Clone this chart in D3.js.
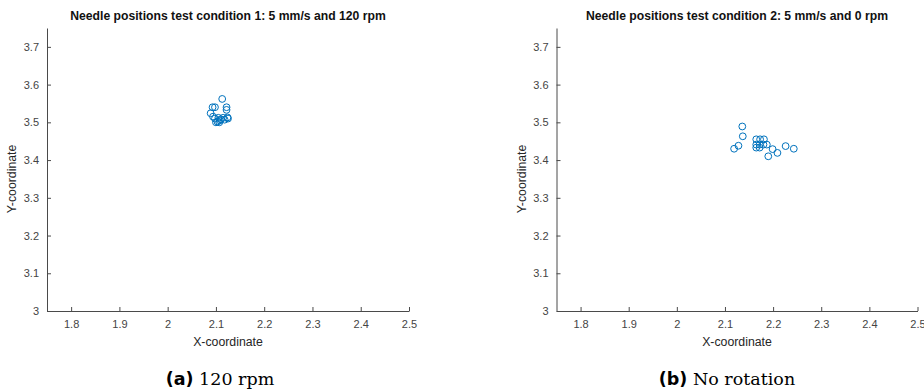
<!DOCTYPE html>
<html><head><meta charset="utf-8">
<script src="https://cdn.jsdelivr.net/npm/d3@7"></script>
<style>
body{margin:0;background:#fff;}
svg{display:block;}
</style></head>
<body>
<svg id="chart" width="924" height="392"></svg>
<script>
// ---- data ----
const xTicks = [1.8, 1.9, 2, 2.1, 2.2, 2.3, 2.4, 2.5];
const yTicks = [3, 3.1, 3.2, 3.3, 3.4, 3.5, 3.6, 3.7];
const titles = ["Needle positions test condition 1: 5 mm/s and 120 rpm",
                "Needle positions test condition 2: 5 mm/s and 0 rpm"];
const captionTags = ["(a)", "(b)"];
const captionTexts = ["120 rpm", "No rotation"];
const xLabel = "X-coordinate";
const yLabel = "Y-coordinate";
// condition 1 (120 rpm)
const x1 = [2.113, 2.093, 2.098, 2.122, 2.122, 2.089, 2.094, 2.098, 2.105, 2.110, 2.115, 2.124, 2.103, 2.108, 2.118, 2.125, 2.100, 2.107];
const y1 = [3.562, 3.540, 3.540, 3.540, 3.533, 3.524, 3.515, 3.510, 3.512, 3.508, 3.512, 3.513, 3.502, 3.505, 3.507, 3.510, 3.500, 3.500];
// condition 2 (0 rpm)
const x2 = [2.136, 2.137, 2.128, 2.119, 2.165, 2.173, 2.181, 2.165, 2.172, 2.180, 2.187, 2.165, 2.172, 2.199, 2.209, 2.190, 2.226, 2.243];
const y2 = [3.489, 3.463, 3.438, 3.430, 3.455, 3.455, 3.455, 3.441, 3.441, 3.441, 3.441, 3.433, 3.433, 3.429, 3.419, 3.410, 3.437, 3.430];
const seriesX = [x1, x2];
const seriesY = [y1, y2];

// ---- layout ----
const svg = d3.select("#chart");
const panels = [
  {left: 47, right: 409, capX: 220},
  {left: 556.5, right: 917.5, capX: 727}
];
const plotTop = 28, plotBottom = 311;
const axisColor = "#4a4a4a";
const markColor = "#0072BD";

panels.forEach((p, i) => {
  const x = d3.scaleLinear().domain([1.75, 2.5]).range([p.left, p.right]);
  const y = d3.scaleLinear().domain([3, 3.75]).range([plotBottom, plotTop]);
  const g = svg.append("g");

  const xa = g.append("g").attr("transform", `translate(0,${plotBottom})`)
    .call(d3.axisBottom(x).tickValues(xTicks).tickSize(-4).tickSizeOuter(0).tickPadding(9).tickFormat(d3.format("")));
  const ya = g.append("g").attr("transform", `translate(${p.left},0)`)
    .call(d3.axisLeft(y).tickValues(yTicks).tickSize(-4).tickSizeOuter(0).tickPadding(8).tickFormat(d3.format("")));
  [xa, ya].forEach(a => {
    a.select(".domain").attr("stroke", axisColor).attr("stroke-width", 1);
    a.selectAll(".tick line").attr("stroke", axisColor);
    a.selectAll(".tick text").attr("fill", "#444")
      .style("font-family", "Liberation Sans, Arial, sans-serif").style("font-size", "11px");
  });

  g.append("g").selectAll("circle")
    .data(seriesX[i].map((v, k) => [v, seriesY[i][k]]))
    .join("circle")
    .attr("cx", d => x(d[0])).attr("cy", d => y(d[1]))
    .attr("r", 3.4).attr("fill", "none")
    .attr("stroke", markColor).attr("stroke-width", 1);

  g.append("text").attr("x", (p.left + p.right) / 2).attr("y", 20)
    .attr("text-anchor", "middle")
    .style("font-family", "Liberation Sans, Arial, sans-serif")
    .style("font-size", "12.2px").style("font-weight", "bold").attr("fill", "#111")
    .text(titles[i]);

  g.append("text").attr("x", (p.left + p.right) / 2).attr("y", 345.5)
    .attr("text-anchor", "middle")
    .style("font-family", "Liberation Sans, Arial, sans-serif")
    .style("font-size", "12.3px").attr("fill", "#262626")
    .text(xLabel);

  g.append("text")
    .attr("transform", `translate(${p.left - 31},${(y(3.3) + y(3.4)) / 2}) rotate(-90)`)
    .attr("text-anchor", "middle")
    .style("font-family", "Liberation Sans, Arial, sans-serif")
    .style("font-size", "12.3px").attr("fill", "#262626")
    .text(yLabel);

  const cap = g.append("text").attr("x", p.capX).attr("y", 385)
    .attr("text-anchor", "middle").attr("fill", "#000");
  cap.append("tspan").style("font-family", "DejaVu Sans, sans-serif")
    .style("font-weight", "bold").style("font-size", "17.5px").text(captionTags[i]);
  cap.append("tspan").style("font-family", "DejaVu Serif, serif")
    .style("font-size", "17.5px").text(" " + captionTexts[i]);
});
</script>
</body></html>
